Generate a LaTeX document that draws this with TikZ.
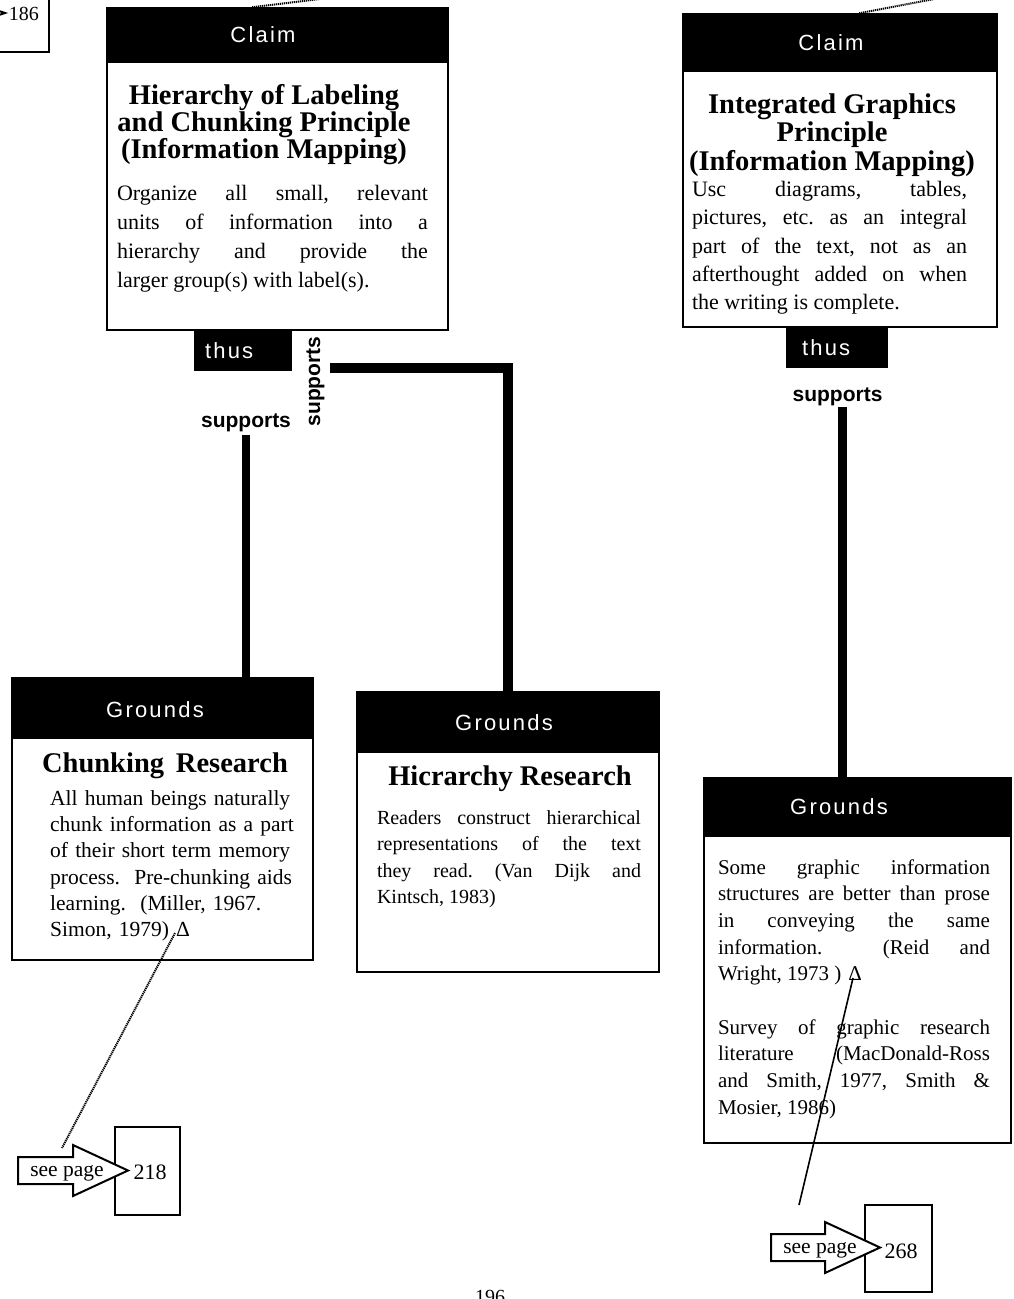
\documentclass[tikz,border=0pt]{standalone}
\usepackage{fontspec}
\setmainfont{Liberation Serif}
\setsansfont{Liberation Sans}
\newfontfamily\hdrfont[LetterSpace=10]{Liberation Sans}
\frenchspacing
\begin{document}
\begin{tikzpicture}[x=1pt,y=-1pt,
  hdr/.style={fill=black, draw=black, line width=1.5pt, inner sep=0pt},
  hdrtext/.style={text=white, font=\hdrfont\fontsize{22}{26}\selectfont, inner sep=0pt},
  tag/.style={hdr, hdrtext},
  panel/.style={draw=black, fill=white, line width=2pt, inner sep=0pt},
  title/.style={font=\bfseries\fontsize{28.5}{28}\selectfont, align=center, inner sep=0pt},
  body/.style={align=justify, inner sep=0pt},
  verb/.style={font=\sffamily\bfseries\fontsize{21}{24}\selectfont, inner sep=0pt},
  link/.style={line width=9pt},
  ref/.style={line width=2pt, dash pattern=on 1.2pt off 0.8pt},
  pagebox/.style={draw=black, fill=white, line width=2pt, inner sep=0pt},
  seeptr/.style={draw=black, fill=white, line width=2pt, line join=miter},
  seetext/.style={font=\fontsize{21.5}{24}\selectfont, inner sep=0pt},
  pagenum/.style={font=\fontsize{22}{24}\selectfont, inner sep=0pt},
]
\useasboundingbox (0,0) rectangle (1013,1299);

% ---------- page reference in the upper left corner ----------
\node[pagebox, minimum width=70pt, minimum height=72pt] (p0) at (14,16) {};
\draw[seeptr] (-40,-2) -- (5,13) -- (-40,28);
\node[pagenum, font=\fontsize{20}{22}\selectfont] (n0) at (24,14) {186};

% ---------- left claim ----------
\node[panel, minimum width=341pt, minimum height=268pt] (c1b) at (277.5,196) {};
\node[hdr, minimum width=341pt, minimum height=54pt] (c1h) at (277.5,35) {};
\node[hdrtext] (c1hl) at (263,35) {Claim};
\node[title, font=\bfseries\fontsize{28.5}{27}\selectfont] (c1t) at (264,125) {Hierarchy of Labeling\\and Chunking Principle\\(Information Mapping)};
\node[body, text width=311pt, font=\fontsize{22}{29}\selectfont] (c1x) at (272.5,238.5)
  {Organize all small, relevant\linebreak units of information into a\linebreak hierarchy and provide the\linebreak larger group(s) with label(s).};
\node[tag, minimum width=96pt, minimum height=38pt] (th1) at (243,351) {\makebox[76pt][l]{thus}};

% ---------- right claim ----------
\node[panel, minimum width=314pt, minimum height=256pt] (c2b) at (840,199) {};
\node[hdr, minimum width=314pt, minimum height=57pt] (c2h) at (840,42.5) {};
\node[hdrtext] (c2hl) at (831,42.5) {Claim};
\node[title, font=\bfseries\fontsize{28.5}{28.5}\selectfont] (c2t) at (832,135) {Integrated Graphics\\Principle\\(Information Mapping)};
\node[body, text width=275pt, font=\fontsize{22}{28.3}\selectfont] (c2x) at (829.5,248)
  {Usc diagrams, tables,\linebreak pictures, etc. as an integral\linebreak part of the text, not as an\linebreak afterthought added on when\linebreak the writing is complete.};
\node[tag, minimum width=100pt, minimum height=39pt] (th2) at (837,347.5) {\makebox[70pt][l]{thus}};

% ---------- grounds: chunking ----------
\node[panel, minimum width=301pt, minimum height=222pt] (g1b) at (162.5,849) {};
\node[hdr, minimum width=301pt, minimum height=60pt] (g1h) at (162.5,708) {};
\node[hdrtext] (g1hl) at (155,710) {Grounds};
\node[title] (g1t) at (165,766) {Chunking\, Research};
\node[body, align=left, text width=258pt, anchor=north west, font=\fontsize{21.5}{26.3}\selectfont] (g1x) at (50,790)
  {All human beings naturally\\chunk information as a part\\of their short term memory\\process.\ \ Pre-chunking aids\\learning.\ \ (Miller, 1967.\\Simon, 1979)\,\,Δ};

% ---------- grounds: hierarchy ----------
\node[panel, minimum width=302pt, minimum height=220pt] (g2b) at (508,862) {};
\node[hdr, minimum width=302pt, minimum height=60pt] (g2h) at (508,722) {};
\node[hdrtext] (g2hl) at (504,723) {Grounds};
\node[title] (g2t) at (510,779) {Hicrarchy Research};
\node[body, text width=264pt, font=\fontsize{20}{26.5}\selectfont] (g2x) at (509,859)
  {Readers construct hierarchical\linebreak representations of the text\linebreak they read. (Van Dijk and\linebreak Kintsch, 1983)};

% ---------- grounds: graphics ----------
\node[panel, minimum width=307pt, minimum height=307pt] (g3b) at (857.5,989.5) {};
\node[hdr, minimum width=307pt, minimum height=58pt] (g3h) at (857.5,807) {};
\node[hdrtext] (g3hl) at (839,807) {Grounds};
\node[body, text width=272pt, font=\fontsize{21}{26.7}\selectfont] (g3x) at (854,989)
  {Some graphic information\linebreak structures are better than prose\linebreak in conveying the same\linebreak information.\ \ (Reid and\linebreak Wright, 1973 )\,\,Δ\par\vspace{26.7pt}Survey of graphic research\linebreak literature (MacDonald-Ross\linebreak and Smith, 1977, Smith \&\linebreak Mosier, 1986)};

% ---------- supports links ----------
\node[verb] (s1) at (246,423) {supports};
\node[verb, rotate=90] (s2) at (315.5,381.5) {supports};
\node[verb] (s3) at (837.5,397) {supports};
\draw[link, line width=7.5pt] ([yshift=-3pt]s1.south) -- (s1.south |- g1h.north);
\coordinate (j2) at (330,368);
\draw[link, line width=10pt] (j2) -| (g2h.north);
\draw[link] ([xshift=5pt,yshift=-1pt]s3.south) -- ([xshift=5pt]s3.south |- g3h.north);

% ---------- references into the claims from above ----------
\coordinate (t1) at (360,-6);
\coordinate (t2) at (1013,-16);
\draw[ref] ([xshift=146pt]c1h.north west) -- (t1);
\draw[ref] ([xshift=177pt]c2h.north west) -- (t2);

% ---------- see page 218 ----------
\node[pagebox, minimum width=65pt, minimum height=88pt] (p1) at (147.5,1171) {};
\draw[seeptr] (18,1157) -- (73,1157) -- (73,1145) -- (128,1170.5) -- (73,1196) -- (73,1184) -- (18,1184) -- cycle;
\node[seetext] (sp1) at (67,1173) {see page};
\node[pagenum] (n1) at (150,1172) {218};
\coordinate (d1) at (175,933);
\coordinate (e1) at (62,1148);
\draw[ref] (d1) -- (e1);

% ---------- see page 268 ----------
\node[pagebox, minimum width=67pt, minimum height=87pt] (p2) at (898.5,1248.5) {};
\draw[seeptr] (771,1234) -- (825,1234) -- (825,1222) -- (880,1247.5) -- (825,1273) -- (825,1261) -- (771,1261) -- cycle;
\node[seetext] (sp2) at (820,1250) {see page};
\node[pagenum] (n2) at (901,1251) {268};
\coordinate (d2) at (853,978);
\coordinate (e2) at (799,1205);
\draw[line width=1.6pt] (d2) -- (e2);

% ---------- folio ----------
\node[font=\fontsize{20}{22}\selectfont, anchor=north, inner sep=0pt] (pg) at (490,1290) {196};
\end{tikzpicture}
\end{document}
